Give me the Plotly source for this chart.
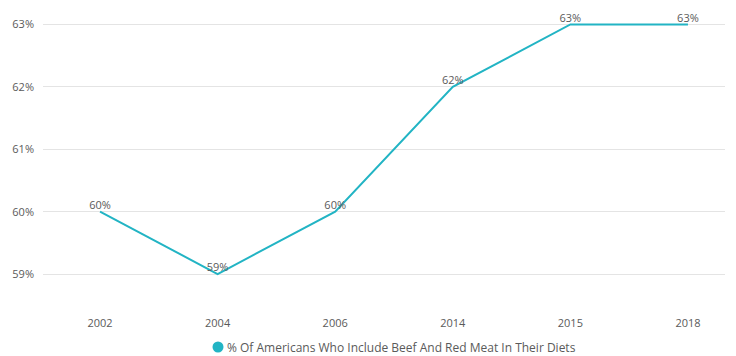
import plotly.graph_objects as go

years = ["2002", "2004", "2006", "2014", "2015", "2018"]
share = [60, 59, 60, 62, 63, 63]
series_name = "% Of Americans Who Include Beef And Red Meat In Their Diets"
y_ticks = [59, 60, 61, 62, 63]
y_tick_text = ["59%", "60%", "61%", "62%", "63%"]

teal = "#22b4c4"
label_grey = "#5a5a5a"
font_family = "Open Sans, sans-serif"

# plot area in pixels
W, H = 736, 356
M_L, M_R, M_T, M_B = 43, 11, 12, 57
plot_w = W - M_L - M_R
plot_h = H - M_T - M_B


def px_to_paper_x(px):
    return (px - M_L) / plot_w


def px_to_paper_y(py):
    return (H - M_B - py) / plot_h


fig = go.Figure()

fig.add_trace(go.Scatter(
    x=years,
    y=share,
    mode="lines+text",
    line=dict(color=teal, width=2),
    text=[f"{v}%" for v in share],
    textposition="top center",
    textfont=dict(family=font_family, size=11, color=label_grey),
    name=series_name,
    showlegend=False,
    cliponaxis=False,
    hoverinfo="skip",
))

# series key under the chart: teal dot followed by the series name
key_y = px_to_paper_y(347)
fig.add_shape(
    type="circle",
    xref="paper",
    yref="paper",
    xsizemode="pixel",
    ysizemode="pixel",
    xanchor=px_to_paper_x(218),
    yanchor=key_y,
    x0=-5.5, x1=5.5,
    y0=-5.5, y1=5.5,
    fillcolor=teal,
    line=dict(width=0),
)
fig.add_annotation(
    xref="paper",
    yref="paper",
    x=px_to_paper_x(225),
    y=key_y,
    xanchor="left",
    yanchor="middle",
    showarrow=False,
    text=series_name,
    font=dict(family=font_family, size=12, color=label_grey),
)

fig.update_layout(
    width=W,
    height=H,
    margin=dict(l=M_L, r=M_R, t=M_T, b=M_B),
    paper_bgcolor="white",
    plot_bgcolor="white",
    showlegend=False,
    font=dict(family=font_family, size=11, color=label_grey),
    xaxis=dict(
        type="category",
        range=[-0.485, 5.315],
        showgrid=False,
        showline=False,
        zeroline=False,
        ticks="",
        ticklabelstandoff=16,
        tickfont=dict(family=font_family, size=11, color=label_grey),
        fixedrange=True,
        automargin=False,
    ),
    yaxis=dict(
        range=[58.6, 63.2],
        tickvals=y_ticks,
        ticktext=y_tick_text,
        showgrid=True,
        gridcolor="#e4e4e4",
        gridwidth=1,
        zeroline=False,
        showline=False,
        ticks="",
        ticklabelstandoff=8,
        tickfont=dict(family=font_family, size=11, color=label_grey),
        fixedrange=True,
        automargin=False,
    ),
)

fig.write_html("out.html")
